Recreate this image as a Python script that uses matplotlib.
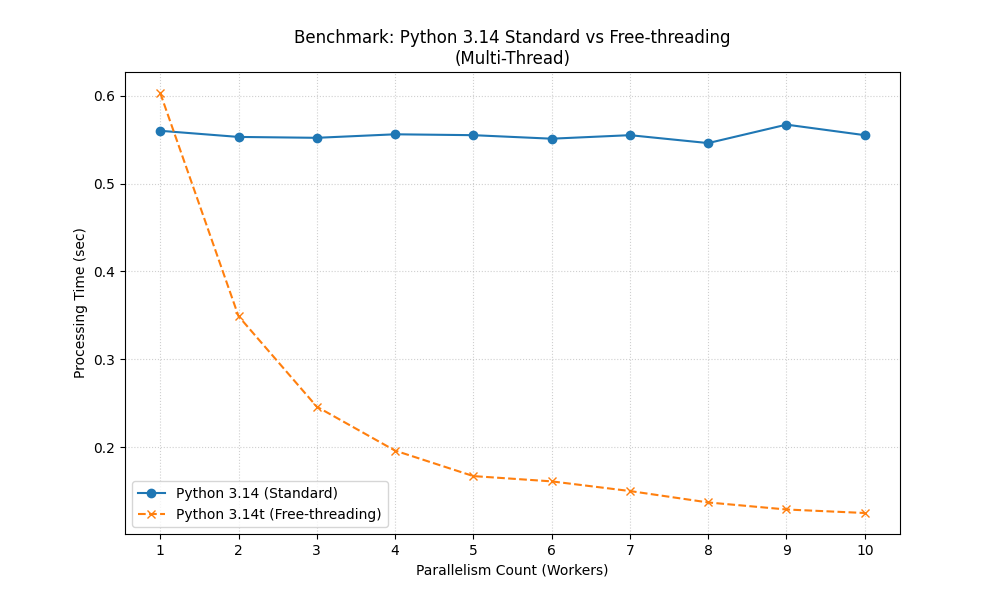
import matplotlib
matplotlib.use("Agg")
from matplotlib import pyplot as plt

workers = [1, 2, 3, 4, 5, 6, 7, 8, 9, 10]
standard = [0.560, 0.553, 0.552, 0.556, 0.555, 0.551, 0.555, 0.546, 0.567, 0.555]
free_threading = [0.603, 0.349, 0.246, 0.196, 0.167, 0.161, 0.150, 0.137, 0.129, 0.125]

plt.figure(figsize=(10, 6), dpi=100)
plt.plot(workers, standard, marker='o', linestyle='-', label='Python 3.14 (Standard)')
plt.plot(workers, free_threading, marker='x', linestyle='--', label='Python 3.14t (Free-threading)')
plt.title('Benchmark: Python 3.14 Standard vs Free-threading\n(Multi-Thread)')
plt.xlabel('Parallelism Count (Workers)')
plt.ylabel('Processing Time (sec)')
plt.xticks(workers)
plt.grid(True, linestyle=':', alpha=0.6)
plt.legend()
plt.savefig('out.png')
